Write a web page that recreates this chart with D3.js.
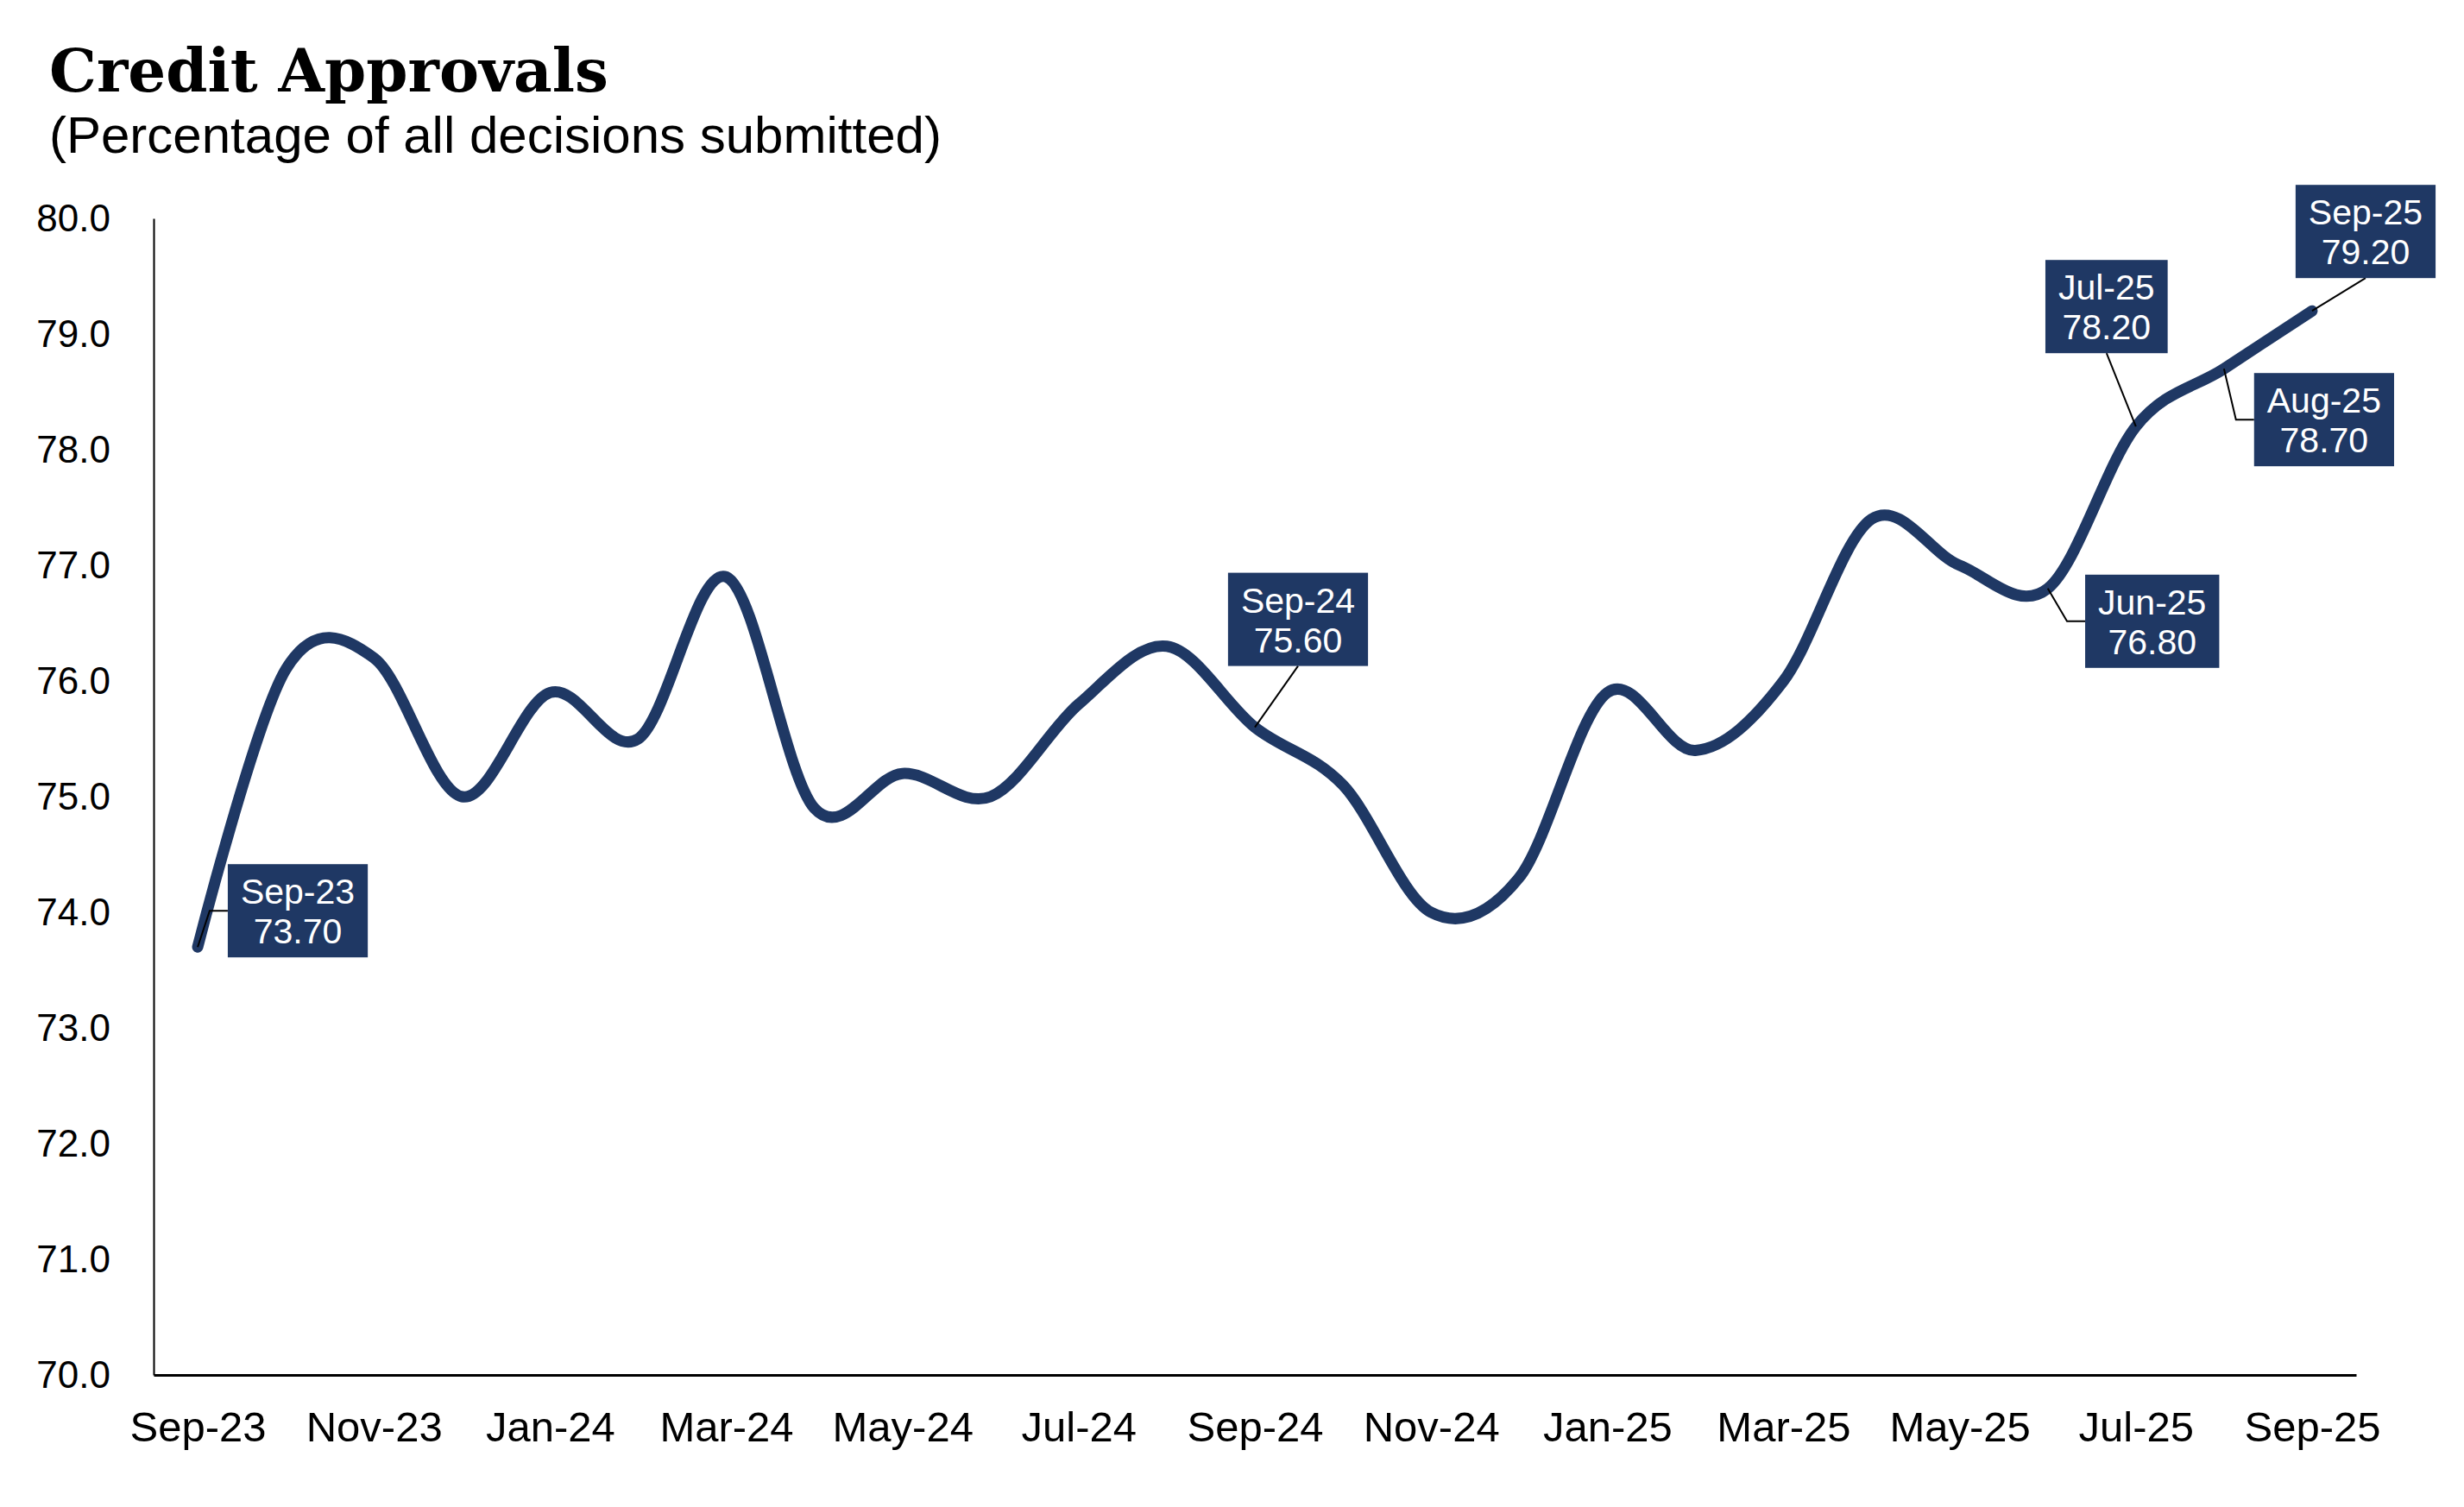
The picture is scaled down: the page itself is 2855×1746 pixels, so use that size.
<!DOCTYPE html>
<html>
<head>
<meta charset="utf-8">
<script src="https://cdn.jsdelivr.net/npm/d3@7"></script>
<style>
  body { margin: 0; background: #fff; }
  svg { display: block; }
</style>
</head>
<body>
<script>
// months shown on the category axis
const months = ["Sep-23", "Oct-23", "Nov-23", "Dec-23", "Jan-24", "Feb-24", "Mar-24", "Apr-24", "May-24",
    "Jun-24", "Jul-24", "Aug-24", "Sep-24", "Oct-24", "Nov-24", "Dec-24", "Jan-25", "Feb-25", "Mar-25",
    "Apr-25", "May-25", "Jun-25", "Jul-25", "Aug-25", "Sep-25"];
// approvals, % of all decisions submitted
const approvals = [73.7, 76.1, 76.2, 75.0, 75.9, 75.5, 76.9, 74.9, 75.2,
    75.0, 75.8, 76.3, 75.6, 75.1, 74.0, 74.3, 75.9, 75.4, 76.0,
    77.4, 77.0, 76.8, 78.2, 78.7, 79.2];
const xTickLabels = ["Sep-23", "Nov-23", "Jan-24", "Mar-24", "May-24", "Jul-24", "Sep-24",
    "Nov-24", "Jan-25", "Mar-25", "May-25", "Jul-25", "Sep-25"];
const yTickValues = [70, 71, 72, 73, 74, 75, 76, 77, 78, 79, 80];
const labelledMonths = ["Sep-23", "Sep-24", "Jun-25", "Jul-25", "Aug-25", "Sep-25"];

// where each callout box sits relative to its point
const calloutLayout = {
    "Sep-23": { dx: 116, dy: -42, leader: "side" },
    "Sep-24": { dx: 50, dy: -125, leader: "bottom" },
    "Jun-25": { dx: 121, dy: 38, leader: "side" },
    "Jul-25": { dx: -34, dy: -139, leader: "bottom" },
    "Aug-25": { dx: 116, dy: 59, leader: "side" },
    "Sep-25": { dx: 62, dy: -92, leader: "bottom" }
};

const W = 2855, H = 1746;
const navy = "#1f3864";
const sans = "'Liberation Sans', Arial, sans-serif";

const data = months.map((m, i) => ({ month: m, value: approvals[i] }));

const svg = d3.select("body").append("svg")
    .attr("width", W)
    .attr("height", H);

const x = d3.scalePoint()
    .domain(months)
    .range([178, 2730])
    .padding(0.5);

const y = d3.scaleLinear()
    .domain([70, 80])
    .range([1593, 253]);

// titles
svg.append("text")
    .attr("x", 57)
    .attr("y", 106)
    .style("font-family", "'DejaVu Serif', Georgia, serif")
    .style("font-weight", "bold")
    .style("font-size", "69px")
    .text("Credit Approvals");

svg.append("text")
    .attr("x", 57)
    .attr("y", 177)
    .style("font-family", sans)
    .style("font-size", "60px")
    .text("(Percentage of all decisions submitted)");

// y axis
const yAxis = svg.append("g")
    .attr("transform", "translate(178,0)")
    .call(d3.axisLeft(y).tickValues(yTickValues).tickFormat(d3.format(".1f")).tickSize(0).tickPadding(50));
yAxis.select(".domain").attr("stroke", "#000").attr("stroke-width", 2);
yAxis.selectAll("text")
    .style("font-family", sans)
    .style("font-size", "44px")
    .attr("fill", "#000");

// x axis
const xAxis = svg.append("g")
    .attr("transform", "translate(0,1593)")
    .call(d3.axisBottom(x).tickValues(xTickLabels).tickSize(0).tickPadding(42));
xAxis.select(".domain").attr("stroke", "#000").attr("stroke-width", 3);
xAxis.selectAll("text")
    .style("font-family", sans)
    .style("font-size", "49px")
    .attr("fill", "#000");

// smoothed line
const line = d3.line()
    .x(d => x(d.month))
    .y(d => y(d.value))
    .curve(d3.curveCardinal.tension(0));

svg.append("path")
    .datum(data)
    .attr("d", line)
    .attr("fill", "none")
    .attr("stroke", navy)
    .attr("stroke-width", 13)
    .attr("stroke-linecap", "round")
    .attr("stroke-linejoin", "round");

// callouts
const callouts = data.filter(d => labelledMonths.includes(d.month));
const fmt = d3.format(".2f");
const boxH = 108;

const leaders = svg.append("g");
const boxes = svg.append("g");

callouts.forEach(d => {
    const lay = calloutLayout[d.month];
    const px = x(d.month), py = y(d.value);
    const cx = px + lay.dx, cy = py + lay.dy;

    const g = boxes.append("g");
    const rect = g.append("rect").attr("fill", navy);
    const t1 = g.append("text")
        .attr("x", cx).attr("y", cy - 8)
        .attr("text-anchor", "middle")
        .style("font-family", sans).style("font-size", "41px")
        .attr("fill", "#fff")
        .text(d.month);
    const t2 = g.append("text")
        .attr("x", cx).attr("y", cy + 38)
        .attr("text-anchor", "middle")
        .style("font-family", sans).style("font-size", "41px")
        .attr("fill", "#fff")
        .text(fmt(d.value));
    const tw = Math.max(t1.node().getComputedTextLength(), t2.node().getComputedTextLength());
    const bw = tw + 30;
    const left = cx - bw / 2, top = cy - boxH / 2;
    rect.attr("x", left).attr("y", top).attr("width", bw).attr("height", boxH);

    let pts;
    if (lay.leader === "side") {
        pts = [[px, py], [left - 21, cy], [left, cy]];
    } else {
        pts = [[px, py], [cx, top + boxH]];
    }
    leaders.append("path")
        .attr("d", d3.line()(pts))
        .attr("fill", "none")
        .attr("stroke", "#000")
        .attr("stroke-width", 2);
});
</script>
</body>
</html>
